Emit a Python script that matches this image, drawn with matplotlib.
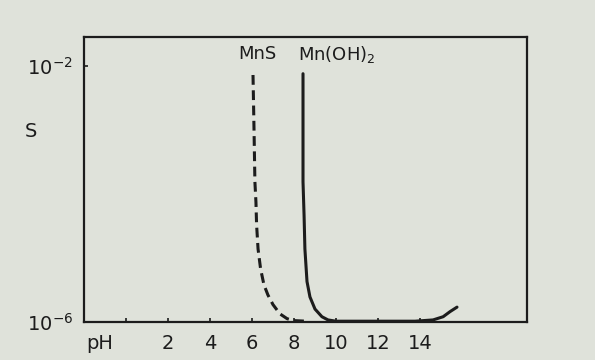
import numpy as np
import matplotlib.pyplot as plt
from matplotlib.transforms import blended_transform_factory

# values (pH, log10 S)
mns_ph = [6.05, 6.10, 6.14, 6.19, 6.22, 6.29, 6.41, 6.57, 6.76, 7.00, 7.33, 7.67, 7.95, 8.6]
mns_logs = [-2.14, -3.03, -3.81, -4.13, -4.48, -4.86, -5.17, -5.42, -5.58, -5.73, -5.875, -5.95, -5.98, -5.99]

mnoh_ph = [8.43, 8.43, 8.43, 8.48, 8.52, 8.62, 8.76, 9.00, 9.33, 9.62, 10.0, 12.0, 13.76, 14.62, 15.10, 15.43, 15.76]
mnoh_logs = [-2.12, -3.03, -3.81, -4.33, -4.86, -5.37, -5.61, -5.80, -5.92, -5.97, -5.99, -5.99, -5.99, -5.97, -5.92, -5.84, -5.77]

ph_ticks = [0, 2, 4, 6, 8, 10, 12, 14]
ph_labels = ['', '2', '4', '6', '8', '10', '12', '14']

paper = '#dfe2da'
ink = '#1c1c1c'

fig = plt.figure(figsize=(5.95, 3.6), dpi=100, facecolor=paper)
ax = fig.add_axes([0.141, 0.106, 0.745, 0.791], facecolor=paper)

ax.plot(mns_ph, 10 ** np.array(mns_logs), color=ink, lw=2.2, ls=(0, (3.2, 1.8)),
        clip_on=False, dash_joinstyle='round')
ax.plot(mnoh_ph, 10 ** np.array(mnoh_logs), color=ink, lw=2.2, clip_on=False,
        solid_capstyle='round', solid_joinstyle='round')

ax.set_yscale('log')
ax.set_xlim(-2, 19.1)
ax.set_ylim(1e-6, 10 ** -1.547)

ax.set_xticks(ph_ticks)
ax.set_xticklabels(ph_labels)
ax.set_yticks([1e-6, 1e-2])
ax.set_yticklabels([r'$10^{-6}$', r'$10^{-2}$'])
ax.minorticks_off()
ax.tick_params(direction='in', length=3, width=1.2, color=ink, labelcolor=ink, labelsize=14)
ax.tick_params(axis='x', pad=9)
ax.tick_params(axis='y', pad=8)

for s in ax.spines.values():
    s.set_linewidth(1.6)
    s.set_color(ink)

tr = blended_transform_factory(ax.transData, ax.transAxes)
ax.text(-1.24, -0.075, 'pH', transform=tr, ha='center', va='center', fontsize=14, color=ink)
ax.text(-0.12, 0.67, 'S', transform=ax.transAxes, ha='center', va='center', fontsize=14, color=ink)

ax.text(6.25, 0.94, 'MnS', transform=tr, ha='center', va='center', fontsize=13, color=ink)
ax.text(8.2, 0.94, r'Mn(OH)$_2$', transform=tr, ha='left', va='center', fontsize=13, color=ink)

fig.savefig('out.png', dpi=100, facecolor=paper)
